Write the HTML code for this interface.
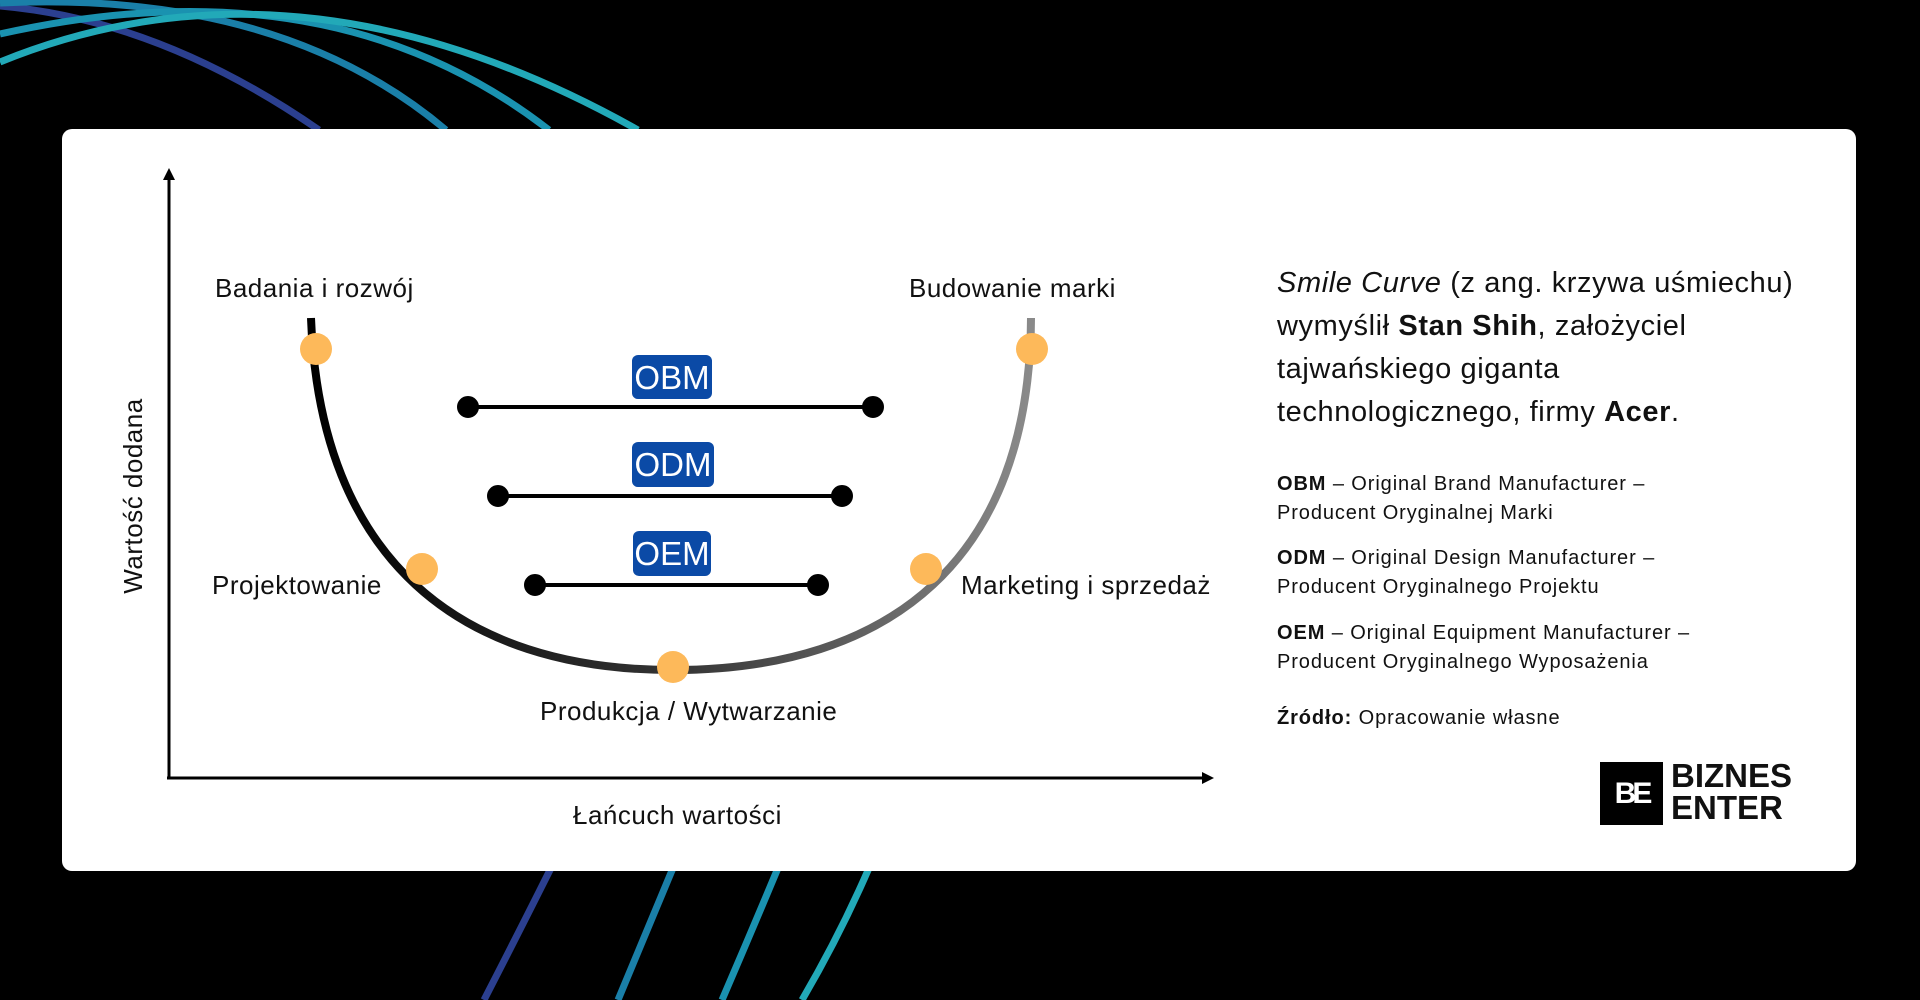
<!DOCTYPE html>
<html><head><meta charset="utf-8"><style>
html,body{margin:0;padding:0;background:#000;width:1920px;height:1000px;overflow:hidden;font-family:"Liberation Sans",sans-serif;}
.card{position:absolute;left:62px;top:129px;width:1794px;height:742px;background:#fff;border-radius:10px;}
.t{position:absolute;white-space:nowrap;color:#111;letter-spacing:0.5px;}
.s{letter-spacing:0.9px;}
</style></head><body>
<svg width="1920" height="1000" style="position:absolute;left:0;top:0">
<g fill="none" stroke-width="7">
<path d="M0,6 Q160,20 319,130" stroke="#2b3f8f"/>
<path d="M0,3 Q280,-10 446,130" stroke="#1a7fa8"/>
<path d="M0,34 Q330,-40 549,130" stroke="#1a92b0"/>
<path d="M0,62 Q300,-60 638,130" stroke="#22a9b8"/>
<path d="M551,868 Q520,930 484,1000" stroke="#2b3f8f"/>
<path d="M673,868 Q645,935 618,1000" stroke="#1a7fa8"/>
<path d="M778,868 Q750,935 722,1000" stroke="#1a92b0"/>
<path d="M869,868 Q840,935 802,1000" stroke="#22a9b8"/>
</g>
</svg>
<div class="card"></div>
<svg width="1920" height="1000" style="position:absolute;left:0;top:0">
<defs>
<linearGradient id="g" x1="311" y1="0" x2="1031" y2="0" gradientUnits="userSpaceOnUse">
<stop offset="0" stop-color="#000"/><stop offset="0.5" stop-color="#333"/><stop offset="1" stop-color="#8a8a8a"/>
</linearGradient>
</defs>
<line x1="169" y1="778" x2="169" y2="178" stroke="#000" stroke-width="3"/>
<polygon points="169,168 163,180 175,180" fill="#000"/>
<line x1="167" y1="778" x2="1204" y2="778" stroke="#000" stroke-width="3"/>
<polygon points="1214,778 1202,772 1202,784" fill="#000"/>
<path d="M311,318 C320,560 460,670 673,670 C890,670 1030,560 1031,318" fill="none" stroke="url(#g)" stroke-width="8"/>
<g fill="#fdb95a">
<circle cx="316" cy="349" r="16"/><circle cx="422" cy="569" r="16"/><circle cx="673" cy="667" r="16"/><circle cx="926" cy="569" r="16"/><circle cx="1032" cy="349" r="16"/>
</g>
<g stroke="#000" stroke-width="4" fill="#000">
<line x1="468" y1="407" x2="873" y2="407"/><circle cx="468" cy="407" r="9"/><circle cx="873" cy="407" r="9"/>
<line x1="498" y1="496" x2="842" y2="496"/><circle cx="498" cy="496" r="9"/><circle cx="842" cy="496" r="9"/>
<line x1="535" y1="585" x2="818" y2="585"/><circle cx="535" cy="585" r="9"/><circle cx="818" cy="585" r="9"/>
</g>
<g fill="#0b4aa6">
<rect x="632" y="355" width="80" height="44" rx="6"/>
<rect x="632" y="442" width="82" height="45" rx="6"/>
<rect x="633" y="531" width="78" height="45" rx="6"/>
</g>
<g fill="#fff" font-family="Liberation Sans" font-size="33" text-anchor="middle">
<text x="672" y="389">OBM</text><text x="673" y="476">ODM</text><text x="672" y="565">OEM</text>
</g>
<text x="142" y="496" transform="rotate(-90 142 496)" text-anchor="middle" font-family="Liberation Sans" font-size="26" letter-spacing="0.5" fill="#111">Wartość dodana</text>
</svg>
<div class="t" style="left:215px;top:273px;font-size:26px">Badania i rozwój</div>
<div class="t" style="left:909px;top:273px;font-size:26px">Budowanie marki</div>
<div class="t" style="left:212px;top:570px;font-size:26px">Projektowanie</div>
<div class="t" style="left:961px;top:570px;font-size:26px">Marketing i sprzedaż</div>
<div class="t" style="left:540px;top:696px;font-size:26px">Produkcja / Wytwarzanie</div>
<div class="t" style="left:573px;top:800px;font-size:26px">Łańcuch wartości</div>
<div class="t" style="left:1277px;top:262px;font-size:29px;line-height:43px;letter-spacing:0.6px">
<i>Smile Curve</i> (z ang. krzywa uśmiechu)<br>wymyślił <b>Stan Shih</b>, założyciel<br>tajwańskiego giganta<br>technologicznego, firmy <b>Acer</b>.</div>
<div class="t s" style="left:1277px;top:470px;font-size:20px;line-height:29px"><b>OBM</b> – Original Brand Manufacturer –<br>Producent Oryginalnej Marki</div>
<div class="t s" style="left:1277px;top:544px;font-size:20px;line-height:29px"><b>ODM</b> – Original Design Manufacturer –<br>Producent Oryginalnego Projektu</div>
<div class="t s" style="left:1277px;top:619px;font-size:20px;line-height:29px"><b>OEM</b> – Original Equipment Manufacturer –<br>Producent Oryginalnego Wyposażenia</div>
<div class="t s" style="left:1277px;top:704px;font-size:20px;line-height:29px"><b>Źródło:</b> Opracowanie własne</div>
<div style="position:absolute;left:1600px;top:762px;width:63px;height:63px;background:#000;color:#fff;font-weight:bold;font-size:30px;line-height:63px;text-align:center;letter-spacing:-4px">BE</div>
<div class="t" style="left:1671px;top:760px;font-size:33px;font-weight:bold;line-height:32px;letter-spacing:0">BIZNES<br>ENTER</div>
</body></html>
